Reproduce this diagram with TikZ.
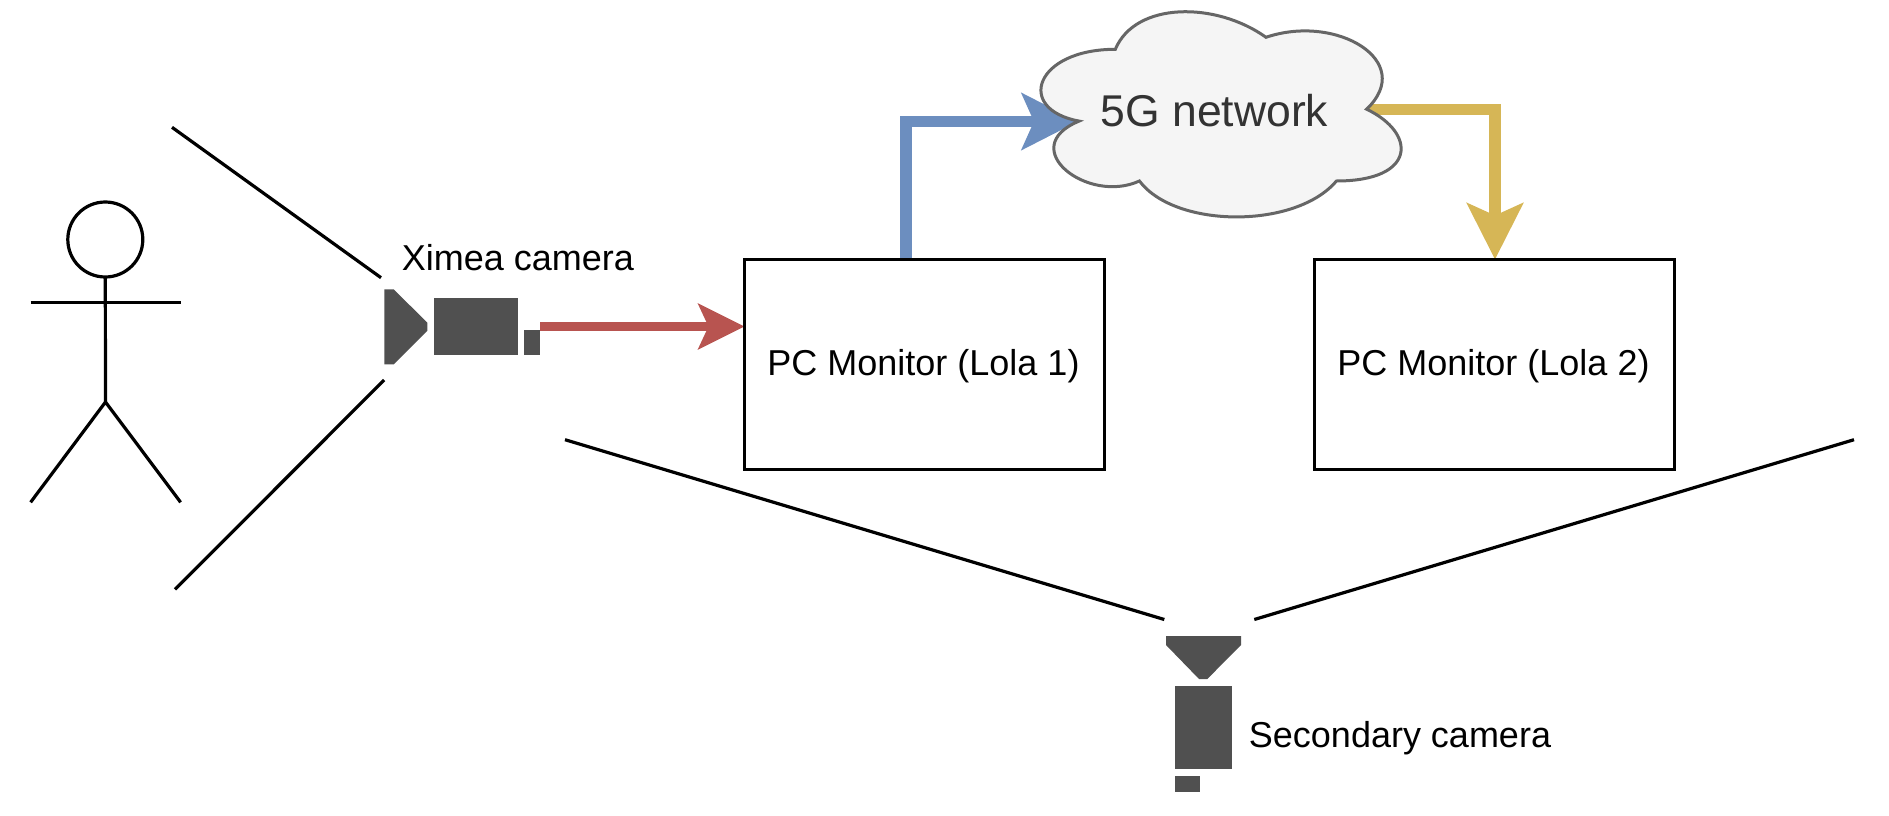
\documentclass[tikz,border=0pt]{standalone}
\usepackage{fontspec}
\setmainfont{Liberation Sans}
\usetikzlibrary{arrows.meta,backgrounds,calc}
\definecolor{camgray}{HTML}{505050}
\definecolor{bluearrow}{HTML}{6C8EBF}
\definecolor{redarrow}{HTML}{B85450}
\definecolor{goldarrow}{HTML}{D6B656}
\definecolor{cloudfill}{HTML}{F5F5F5}
\definecolor{cloudline}{HTML}{666666}
\definecolor{cloudtext}{HTML}{333333}
\tikzset{
  ink/.style={draw=black,line width=3.2pt},
  pcbox/.style={draw=black,line width=3.2pt,outer sep=0pt,minimum width=360pt,minimum height=210pt,inner sep=0pt,text height=28.6pt,text depth=7pt,font=\fontsize{36}{43}\selectfont},
  campart/.style={fill=camgray,draw=none,inner sep=0pt,outer sep=0pt},
  caption/.style={inner sep=0pt,font=\fontsize{36}{43}\selectfont},
  cloudlabel/.style={inner sep=0pt,text=cloudtext,font=\fontsize{44.5}{54}\selectfont},
  flow/.style={line width=11.6pt,miter limit=10,line join=miter},
  redflow/.style={draw=redarrow,line width=9.6pt,-{Stealth[length=46pt,width=45pt,inset=10pt,fill=redarrow]}},
  blueflow/.style={flow,draw=bluearrow,-{Stealth[length=56pt,width=56pt,inset=12pt,fill=bluearrow]}},
  goldflow/.style={flow,draw=goldarrow,-{Stealth[length=56pt,width=55.5pt,inset=12pt,fill=goldarrow]}},
}
\begin{document}
\begin{tikzpicture}[x=1pt,y=-1pt]
\useasboundingbox (0,0) rectangle (1889,816);

% stick figure
\node[ink,circle,inner sep=0pt,outer sep=0pt,minimum size=75pt] (head) at (105.3,239.5) {};
\coordinate (hip) at (105.5,402);
\coordinate (armL) at (30.6,302.3);
\coordinate (armR) at (180.6,302.3);
\coordinate (footL) at (30.6,502.3);
\coordinate (footR) at (180.6,502.3);
\draw[ink] (head.south) -- (hip);
\draw[ink] (armL) -- (armR);
\draw[ink,line join=miter] (footL) -- (hip) -- (footR);

% field of view lines
\coordinate (va) at (172,127.3);
\coordinate (vb) at (381,277.7);
\coordinate (vc) at (175,589.3);
\coordinate (vd) at (384.2,380);
\coordinate (ve) at (565,439.7);
\coordinate (vf) at (1164.3,619.5);
\coordinate (vg) at (1254.3,619.5);
\coordinate (vh) at (1854,439.7);
\draw[ink] (va) -- (vb);
\draw[ink] (vc) -- (vd);
\draw[ink] (ve) -- (vf);
\draw[ink] (vg) -- (vh);

% Ximea camera
\fill[camgray] (384.3,289.3) -- (393.7,289.3) -- (427.3,322.7) -- (427.3,330.7) -- (393.7,364.3) -- (384.3,364.3) -- cycle;
\node[campart,minimum width=83.7pt,minimum height=57pt] (ximeabody) at (475.85,326.8) {};
\node[campart,minimum width=16pt,minimum height=25.3pt] (ximeaplug) at (532.3,342.65) {};
\node[caption] (ximealabel) at (518,258) {Ximea camera};

% Secondary camera
\fill[camgray] (1166,636) -- (1241,636) -- (1241,645) -- (1207.3,679) -- (1199,679) -- (1166,645) -- cycle;
\node[campart,minimum width=57pt,minimum height=83.6pt] (secbody) at (1203.5,727.5) {};
\node[campart,minimum width=25pt,minimum height=15.7pt] (secplug) at (1187.5,783.85) {};
\node[caption] (seclabel) at (1400,738) {Secondary camera};

% monitors
\node[pcbox] (lolaone) at (924.5,364.3) {\hspace{-2pt}PC Monitor (Lola 1)};
\node[pcbox] (lolatwo) at (1494.5,364.3) {\hspace{-2pt}PC Monitor (Lola 2)};

% network label
\node[cloudlabel] (net) at (1214.5,110.5) {5G network};

\coordinate (redstart) at ($(ximeaplug.north east)+(0,-3.5)$);
\coordinate (redend) at (redstart -| lolaone.west);
\coordinate (bluestart) at (906,259);
\coordinate (bluetip) at (1078,121.5);
\coordinate (goldstart) at (1340,109.5);
\coordinate (goldtip) at (1495,259.5);

\begin{scope}[on background layer]
  \draw[redflow] (redstart) -- (redend);
  \draw[blueflow] (bluestart) |- (bluetip);
  \draw[goldflow] (goldstart) -| (goldtip);
  \draw[draw=cloudline,fill=cloudfill,line width=3pt]
    (1115.3,49.3)
    .. controls (1034.9,49.3) and (1014.8,109.2) .. (1079.1,121.1)
    .. controls (1014.8,147.5) and (1087.2,204.9) .. (1139.4,181)
    .. controls (1175.6,228.9) and (1296.2,228.9) .. (1336.4,181)
    .. controls (1416.8,181) and (1416.8,133.1) .. (1366.6,109.2)
    .. controls (1416.8,61.3) and (1336.4,13.3) .. (1266,37.3)
    .. controls (1215.8,1.4) and (1135.4,1.4) .. (1115.3,49.3)
    -- cycle;
\end{scope}
\end{tikzpicture}
\end{document}
